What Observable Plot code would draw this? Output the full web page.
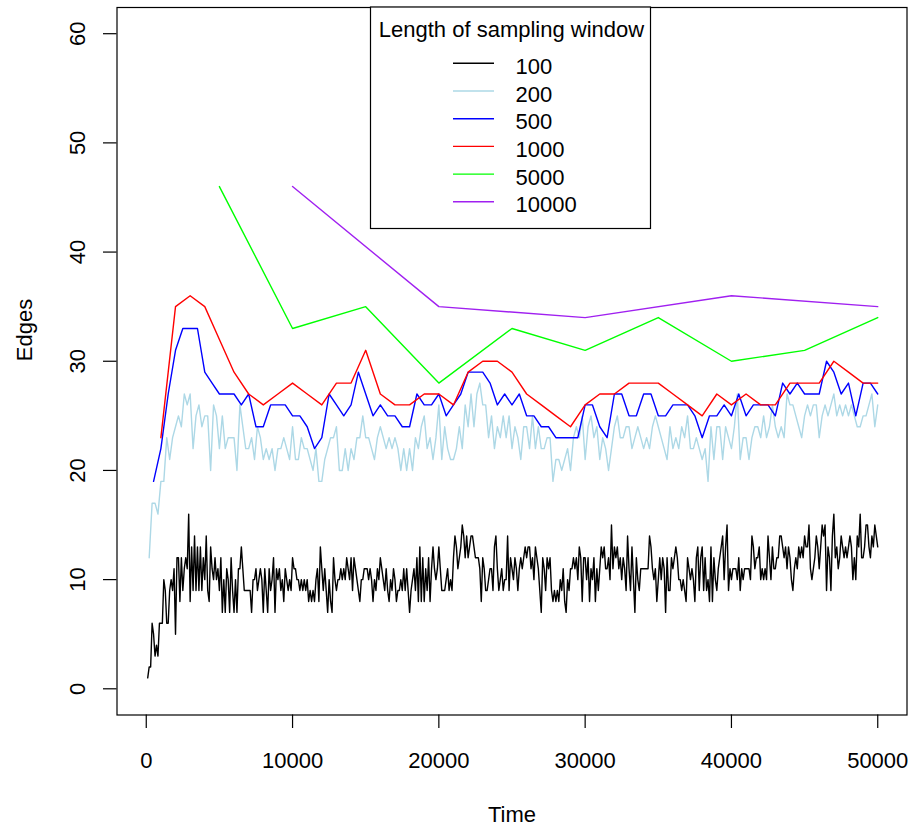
<!DOCTYPE html>
<html><head><meta charset="utf-8">
<script src="https://cdn.jsdelivr.net/npm/d3@7"></script>
<script src="https://cdn.jsdelivr.net/npm/@observablehq/plot@0.6"></script>
<style>body{margin:0;background:#fff;} #chart{width:912px;height:827px;}</style>
</head><body><div id="chart"></div>
<script>
// Lengths of sampling window (series) and their colours
const windows = [100, 200, 500, 1000, 5000, 10000];
const windowLabels = ["100", "200", "500", "1000", "5000", "10000"];
const colors = ["black", "lightblue", "blue", "red", "#00FF00", "#A020F0"];

// Edges, window 100 (t = 100, 200, ..., 50000)
const edges100 = [
1,2,2,6,5,3,4,3,6,6, 6,10,9,6,6,9,10,9,11,5, 12,12,8,12,9,11,12,11,16,8, 13,9,14,9,13,9,13,9,12,10, 14,9,8,13,11,10,12,10,11,9, 12,7,10,7,11,10,7,12,9,7, 10,7,11,11,13,11,9,9,9,9, 9,7,10,10,11,9,10,11,10,7,
11,9,7,11,9,10,12,7,11,10, 11,9,10,8,11,10,9,10,9,12, 11,11,10,10,9,10,9,10,9,10, 8,9,8,9,8,10,11,8,13,11, 9,11,9,7,10,8,7,12,10,9, 10,10,11,10,11,10,12,11,10,12, 9,12,11,10,9,8,10,10,11,11, 11,10,11,10,8,10,9,11,10,12, 11,10,9,
11,9,8,10,9,11,10,8,9,9, 10,9,11,9,11,9,7,9,10,11, 9,12,8,13,8,12,8,11,9,12, 8,11,13,11,10,11,13,11,9,9, 9,10,11,9,10,9,12,14,13,11, 12,13,15,14,12,14,12,13,14,14, 13,12,12,12,11,8,12,11,9,9, 10,11,11,9,13,14,11,9,10,11, 9,10,
10,14,9,12,11,10,12,11,9,11, 12,11,12,13,12,13,13,11,12,10, 13,12,11,9,7,12,11,9,12,11, 12,9,8,9,8,9,8,10,9,11, 8,7,10,9,11,11,12,11,12,10, 13,12,8,12,12,10,12,8,11,10, 12,8,11,9,11,13,12,13,11,11, 12,10,15,11,13,12,13,11,12,10, 12,11,
9,14,11,9,13,10,7,12,10,9, 11,11,11,11,11,11,14,13,11,10, 11,8,10,12,10,12,11,7,12,9, 9,12,11,12,13,12,10,10,9,10, 9,8,12,11,10,11,10,8,12,13, 9,12,13,9,12,9,10,8,13,8, 12,10,9,11,12,13,14,10,13,15, 9,11,10,11,11,11,10,12,9,11, 10,11,
11,11,11,10,14,13,11,12,12,13, 10,11,10,11,10,14,12,10,13,11, 11,12,12,14,14,13,12,13,11,13, 12,10,9,11,12,11,13,12,13,12, 14,13,13,15,11,10,11,12,14,13, 11,13,15,14,15,9,13,12,9,14, 16,12,13,11,12,14,13,12,13,12, 13,14,13,10,12,10,14,13,16,12, 12,13,15,15,13,12,14,13,15,14, 13
];

// Edges, window 200
const edges200 = [
12,17,17,16,19,19,23,21,23,24, 25,24,27,26,27,22,25,26,24,25, 25,20,26,25,22,25,22,23,23,23, 20,26,24,22,22,23,21,24,23,21,
22,21,22,20,22,22,23,22,21,24, 21,21,23,22,22,21,20,22,19,19, 21,22,23,23,24,20,20,22,20,22, 21,23,23,25,23,23,22,21,23,24, 23,22,
23,22,23,22,20,22,20,22,20,23, 22,24,25,22,23,21,23,26,21,24, 22,21,21,22,24,22,26,24,27,24, 27,28,26,26,23,25,22,24,23,25, 23,
25,22,24,23,21,24,24,22,25,22, 24,22,22,23,23,19,21,21,20,21, 22,20,23,24,23,25,21,24,25,23, 24,21,23,22,20,22,24,25,23,23, 24,
24,22,23,24,23,22,23,22,24,25, 24,23,22,21,24,22,23,22,24,23, 25,22,22,23,22,21,22,19,24,21, 24,24,21,24,23,22,24,27,21,23, 23,
21,23,24,24,23,25,23,24,26,24, 23,24,23,27,26,26,25,24,23,25, 26,25,26,26,23,25,26,25,26,27, 25,26,25,26,25,26,25,24,24,25, 25,26,27,24,26
];

// Edges, window 500
const edges500 = [
19,22,27,31,33,33,33,29,28,27, 27,27,26,27,24,24,26,26,26,25, 25,24,22,23,27,26,25,26,29,27,
25,26,25,25,24,24,27,26,26,27, 25,26,27,29,29,29,28,26,27,26, 27,25,25,24,24,23,23,23,23,26,
26,24,23,27,27,25,25,27,27,25, 25,26,26,26,25,23,25,25,26,25, 27,25,26,26,26,25,28,27,28,27,
27,27,30,29,27,28,25,28,28,27
];

// Edges, window 1000
const edges1000 = [
23,35,36,35,32,29,27,26,27,28, 27,26,28,28,31,27,26,26,27,27,
26,29,30,30,29,27,26,25,24,26, 27,27,28,28,28,27,26,25,27,26,
27,26,26,28,28,28,30,29,28,28
];

// Edges, window 5000 and 10000
const edges5000 = [46, 33, 35, 28, 33, 31, 34, 30, 31, 34];
const edges10000 = [46, 35, 34, 36, 35];

// Axis ticks
const xTicks = [0, 10000, 20000, 30000, 40000, 50000];
const yTicks = [0, 10, 20, 30, 40, 50, 60];

const series = [edges100, edges200, edges500, edges1000, edges5000, edges10000];
const tables = series.map((vals, s) => vals.map((v, i) => ({t: (i + 1) * windows[s], e: v})));

const font = '"Liberation Sans", Arial, Helvetica, sans-serif';

const chart = Plot.plot({
  width: 912,
  height: 827,
  marginLeft: 116.5,
  marginRight: 5.5,
  marginTop: 7,
  marginBottom: 112.5,
  style: {fontFamily: font, fontSize: "22px", background: "white", color: "black"},
  x: {domain: [-2000, 52000], axis: null},
  y: {domain: [-2.4, 62.4], axis: null},
  marks: [
    ...tables.map((tb, s) => Plot.line(tb, {x: "t", y: "e", stroke: colors[s], strokeWidth: 1.4})),
    Plot.frame({stroke: "black", strokeWidth: 1.2}),
    Plot.axisX({ticks: xTicks, tickSize: 13.5, tickPadding: 23.5, fontSize: 22, tickFormat: d => String(d), label: null, stroke: "black", strokeWidth: 1.2}),
    Plot.axisY({ticks: yTicks, tickSize: 13.5, tickPadding: 19, tickRotate: -90, fontSize: 22, tickFormat: d => String(d), label: null, stroke: "black", strokeWidth: 1.2}),
    Plot.text(["Time"], {frameAnchor: "bottom", dy: 106.5, lineAnchor: "bottom", fontSize: 22, fill: "black"}),
    Plot.text(["Edges"], {frameAnchor: "left", dx: -85.5, rotate: -90, lineAnchor: "bottom", fontSize: 22, fill: "black"})
  ]
});

// Legend (inside plot, top centre)
const svg = d3.select(chart);
const lg = svg.append("g").attr("font-family", font).attr("font-size", 22);
lg.append("rect").attr("x", 370.5).attr("y", 7).attr("width", 280).attr("height", 221.5)
  .attr("fill", "white").attr("stroke", "black").attr("stroke-width", 1.2);
lg.append("text").attr("x", 511.5).attr("y", 36.7).attr("text-anchor", "middle").attr("fill", "black")
  .text("Length of sampling window");
windowLabels.forEach((lab, i) => {
  const yy = 63.3 + 27.7 * i;
  lg.append("line").attr("x1", 453).attr("x2", 494).attr("y1", yy).attr("y2", yy)
    .attr("stroke", colors[i]).attr("stroke-width", 1.4);
  lg.append("text").attr("x", 515.5).attr("y", yy + 10.6).attr("text-anchor", "start")
    .attr("fill", "black").text(lab);
});

document.getElementById("chart").appendChild(chart);
</script>
</body></html>
